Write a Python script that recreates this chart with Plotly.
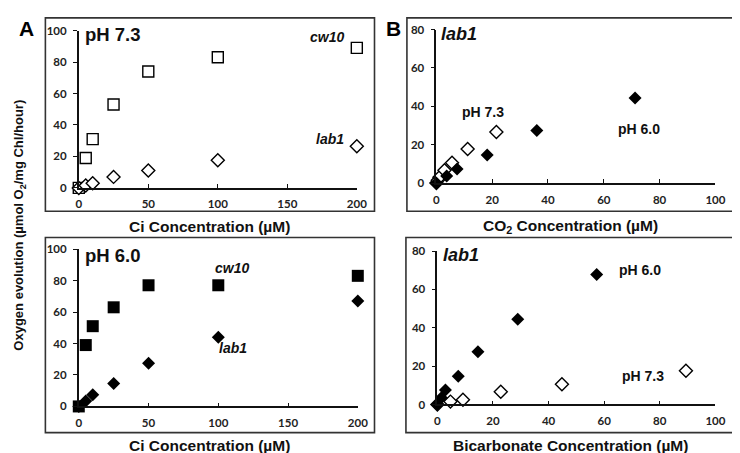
import plotly.graph_objects as go

# ---------------- data ----------------
ci = [0, 5, 10, 25, 50, 100, 200]
cw10_ph73 = [0, 19, 31, 53, 74, 83, 89]
lab1_ph73 = [0, 1.5, 3, 7, 11, 17.5, 26.5]
cw10_ph60 = [0, 39, 51, 63, 77, 77, 83]
lab1_ph60 = [0, 3.5, 7.5, 14.5, 27.5, 44, 67]

co2_ph73_x = [0, 0.5, 1.1, 2.9, 5.6, 11.2, 21.5]
co2_ph73_y = [0, 1.5, 3, 6.7, 10.6, 17.7, 26.6]
co2_ph60_x = [0, 3.7, 7.4, 18.2, 36, 71.2]
co2_ph60_y = [0, 3.7, 7.3, 14.6, 27.4, 44.3]

bic_ph60_x = [0, 1.45, 2.9, 7.5, 14.6, 28.9, 57.3]
bic_ph60_y = [0, 3.5, 7.5, 14.7, 27.5, 44.4, 67.8]
bic_ph73_x = [0, 4.7, 9.2, 22.8, 44.8, 89.4]
bic_ph73_y = [0, 1.5, 2.5, 6.6, 10.5, 17.6]

ci_ticks = [0, 50, 100, 150, 200]
ci_y_ticks = [0, 20, 40, 60, 80, 100]
b_x_ticks = [0, 20, 40, 60, 80, 100]
b_y_ticks = [0, 20, 40, 60, 80]

W, H = 740, 453
def px(x):
    return x / W
def py(y):
    return 1 - y / H

fig = go.Figure()

BLK = "#000000"
open_sq = dict(symbol="square-open", size=11, color=BLK, line=dict(width=1.4, color=BLK))
open_di = dict(symbol="diamond", size=10, color="white", line=dict(width=1.4, color=BLK))
fill_sq = dict(symbol="square", size=12, color=BLK)
fill_di = dict(symbol="diamond", size=10, color=BLK)

def add(x, y, marker, xa, ya):
    fig.add_trace(go.Scatter(x=x, y=y, mode="markers", marker=marker,
                             xaxis=xa, yaxis=ya, cliponaxis=False,
                             showlegend=False, hoverinfo="x+y"))

add(ci, cw10_ph73, open_sq, "x", "y")
add(ci, lab1_ph73, open_di, "x", "y")
add(co2_ph73_x, co2_ph73_y, open_di, "x2", "y2")
add(co2_ph60_x, co2_ph60_y, fill_di, "x2", "y2")
add(ci, cw10_ph60, fill_sq, "x3", "y3")
add(ci, lab1_ph60, fill_di, "x3", "y3")
add(bic_ph73_x, bic_ph73_y, open_di, "x4", "y4")
add(bic_ph60_x, bic_ph60_y, fill_di, "x4", "y4")

tickfont = dict(family="Lato, Open Sans, sans-serif", size=11.5, color="#222222", weight="bold")
axline = dict(showline=True, linecolor="#111111", linewidth=1.6, showgrid=False,
              zeroline=False, ticklen=4, tickwidth=1.4,
              tickcolor="#111111", tickfont=tickfont)

def xax(domain, rng, ticks, anchor):
    d = dict(axline)
    d.update(domain=domain, range=rng, tickvals=ticks, anchor=anchor,
             ticks="inside", ticklabelstandoff=5)
    return d

def yax(domain, rng, ticks, anchor):
    d = dict(axline)
    d.update(domain=domain, range=rng, tickvals=ticks, anchor=anchor,
             ticks="outside", ticklabelstandoff=4)
    return d

fig.update_layout(
    width=W, height=H, margin=dict(l=0, r=0, t=0, b=0),
    plot_bgcolor="white", paper_bgcolor="white",
    xaxis=xax([px(69), px(352)], [0, 200], ci_ticks, "y"),
    yaxis=yax([py(178), py(16)], [0, 100], ci_y_ticks, "x"),
    xaxis2=xax([px(433), px(717)], [0, 100], b_x_ticks, "y2"),
    yaxis2=yax([py(173), py(15)], [0, 80], b_y_ticks, "x2"),
    xaxis3=xax([px(69), px(353)], [0, 200], ci_ticks, "y3"),
    yaxis3=yax([py(403), py(241)], [0, 100], ci_y_ticks, "x3"),
    xaxis4=xax([px(434), px(717)], [0, 100], b_x_ticks, "y4"),
    yaxis4=yax([py(401), py(243)], [0, 80], b_y_ticks, "x4"),
)

# frame boxes
for (x0, y0, x1, y1) in [(35, 3, 370, 202), (403, 3, 738, 202),
                         (35, 229, 370, 430), (402, 229, 738, 430)]:
    fig.add_shape(type="rect", xref="paper", yref="paper",
                  x0=px(x0), x1=px(x1), y0=py(y1), y1=py(y0),
                  line=dict(color="#333333", width=1.6), fillcolor="rgba(0,0,0,0)")

AR = "Arial, Liberation Sans, sans-serif"
def ann(text, x, y, size, xanchor="center", italic=False, angle=0, color="#111111"):
    t = f"<i>{text}</i>" if italic else text
    fig.add_annotation(text=f"<b>{t}</b>", x=px(x), y=py(y), xref="paper", yref="paper",
                       showarrow=False, xanchor=xanchor, yanchor="middle",
                       textangle=angle, font=dict(family=AR, size=size, color=color))

# panel letters
ann("A", 6, 14, 21, "left", color="#000000")
ann("B", 380, 14, 21, "left", color="#000000")

# axis titles
ann("Ci Concentration (µM)", 202, 218, 15.5)
ann("CO<sub>2</sub> Concentration (µM)", 570, 218, 15.5)
ann("Ci Concentration (µM)", 202, 443, 15.5)
ann("Bicarbonate Concentration (µM)", 570, 443, 15.5)
ann("Oxygen evolution (µmol O<sub>2</sub>/mg Chl/hour)", 9, 216, 13, angle=-90)

# panel labels
ann("pH 7.3", 73, 20, 18.5, "left")
ann("cw10", 341, 23, 14, "right", italic=True)
ann("lab1", 341, 128, 14, "right", italic=True)
ann("lab1", 436, 20, 18, "left", italic=True)
ann("pH 7.3", 480, 100, 14)
ann("pH 6.0", 639, 117, 14)
ann("pH 6.0", 73, 248, 18.5, "left")
ann("cw10", 225, 260, 14, italic=True)
ann("lab1", 226, 343, 14, italic=True)
ann("lab1", 438, 247, 18, "left", italic=True)
ann("pH 6.0", 640, 263, 14)
ann("pH 7.3", 643, 372, 14)

fig.write_html("out.html")
